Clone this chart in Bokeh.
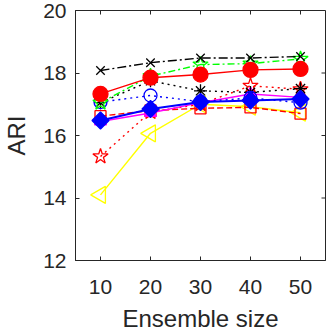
import math
from bokeh.plotting import figure
from bokeh.models import Range1d, FixedTicker
from bokeh.embed import file_html
from bokeh.resources import INLINE

ensemble_size = [10, 20, 30, 40, 50]
s_black_x = [18.08, 18.33, 18.48, 18.48, 18.53]
s_green_star = [17.05, 17.90, 18.27, 18.30, 18.45]
s_red_circle = [17.33, 17.85, 17.95, 18.10, 18.13]
s_black_ast = [17.05, 17.75, 17.43, 17.38, 17.50]
s_blue_circle = [17.07, 17.28, 17.08, 17.20, 17.05]
s_magenta_tri = [16.45, 16.72, 17.05, 17.33, 17.22]
s_blue_diamond = [16.48, 16.85, 17.07, 17.12, 17.17]
s_red_star = [15.33, 16.75, 17.00, 17.59, 17.48]
s_red_square = [16.62, 16.80, 16.87, 16.90, 16.70]
s_yellow_tri = [14.10, 16.07, 17.00, 16.92, 16.73]
x_ticks = [10, 20, 30, 40, 50]
y_ticks = [12, 14, 16, 18, 20]
x_lim = [5, 55]
y_lim = [12, 20]

FONT = "Liberation Sans"
TXT = "#262626"

p = figure(width=327, height=334, output_backend="svg", toolbar_location=None,
           x_range=Range1d(*x_lim), y_range=Range1d(*y_lim),
           min_border_left=71, min_border_right=2, min_border_top=10, min_border_bottom=72)
p.background_fill_color = "white"
p.border_fill_color = "white"
p.grid.visible = False
p.outline_line_color = TXT
p.outline_line_width = 1

for ax in (p.xaxis[0], p.yaxis[0]):
    ax.major_label_text_font = FONT
    ax.major_label_text_font_size = "21px"
    ax.major_label_text_color = TXT
    ax.major_label_text_line_height = 1.0
    ax.axis_label_text_font = FONT
    ax.axis_label_text_font_size = "24px"
    ax.axis_label_text_font_style = "normal"
    ax.axis_label_text_color = TXT
    ax.axis_label_text_line_height = 1.0
    ax.axis_line_color = TXT
    ax.major_tick_line_color = TXT
    ax.major_tick_in = 4
    ax.major_tick_out = 0
    ax.minor_tick_line_color = None
p.xaxis.ticker = FixedTicker(ticks=x_ticks)
p.yaxis.ticker = FixedTicker(ticks=y_ticks)
p.xaxis.axis_label = "Ensemble size"
p.yaxis.axis_label = "ARI"
p.xaxis.major_label_standoff = 19
p.yaxis.major_label_standoff = 9
p.xaxis.axis_label_standoff = 8
p.yaxis.axis_label_standoff = 10

# inward ticks on the top and right edges of the box
p.ray(x=x_ticks, y=[y_lim[1]] * len(x_ticks), length=4, length_units="screen",
      angle=-math.pi / 2, line_color=TXT, line_width=1)
p.ray(x=[x_lim[1]] * len(y_ticks), y=y_ticks, length=4, length_units="screen",
      angle=math.pi, line_color=TXT, line_width=1)

def series(y, color, dash, marker, size, fill, lw=1.4, angle=0.0, mlw=1.3):
    p.line(ensemble_size, y, line_color=color, line_dash=dash, line_width=lw)
    p.scatter(ensemble_size, y, marker=marker, size=size, angle=angle,
              line_color=color, line_width=mlw,
              fill_color=(color if fill else None))

series(s_yellow_tri, "#FFFF00", "solid", "triangle", 17, False, angle=math.pi / 2)
series(s_red_square, "#FF0000", "6 3", "square", 11, False)
series(s_red_star, "#FF0000", "2 4", "star", 16, False)
series(s_magenta_tri, "#FF00FF", "solid", "triangle", 12, True)
series(s_black_ast, "#000000", "2 4", "asterisk", 13, False)
series(s_blue_circle, "#0000FF", "2 4", "circle", 13, False)
series(s_green_star, "#00FF00", "7 3 2 3", "star", 16, False)
series(s_black_x, "#000000", "9 3 2 3", "x", 12, False)
series(s_red_circle, "#FF0000", "solid", "circle", 15, True)
series(s_blue_diamond, "#0000FF", "solid", "square", 12, True, lw=2, angle=math.pi / 4)

open("out.html", "w").write(file_html(p, INLINE))
